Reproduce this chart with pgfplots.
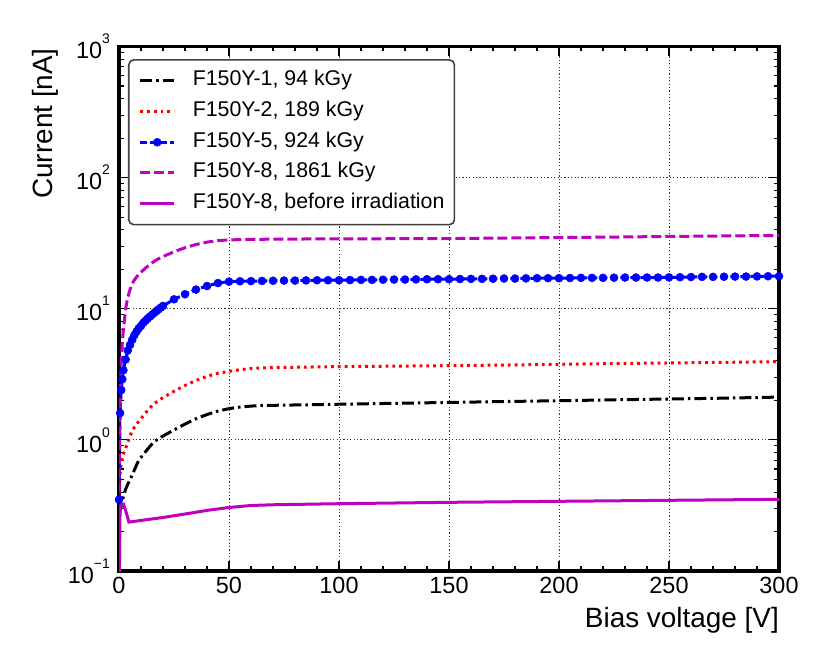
\documentclass[border=0pt]{standalone}
\usepackage{fontspec}
\setmainfont{Liberation Sans}
\usepackage{pgfplots}
\pgfplotsset{compat=1.18}
\definecolor{rootmag}{RGB}{191,0,191}
\definecolor{rootblue}{RGB}{0,0,255}
\definecolor{rootred}{RGB}{255,0,0}
\newcommand\tpow[1]{10\raisebox{15bp}{\fontsize{14}{14}\selectfont #1}}
\begin{document}
\begin{tikzpicture}
\path[use as bounding box] (0,0) rectangle (830bp,664bp);
\begin{axis}[
  at={(119bp,93bp)}, anchor=south west,
  scale only axis, width=660bp, height=524.5bp,
  xmin=0, xmax=300, ymin=0.1, ymax=1000, ymode=log,
  xtick={0,50,...,300}, minor x tick num=4,
  ytick={0.1,1,10,100,1000},
  yticklabels={\tpow{−1},\tpow{0},\tpow{1},\tpow{2},\tpow{3}},
  minor ytick={0.2,0.3,0.4,0.5,0.6,0.7,0.8,0.9,2,3,4,5,6,7,8,9,20,30,40,50,60,70,80,90,200,300,400,500,600,700,800,900},
  tick pos=both, tick align=inside,
  major tick length=10bp, minor tick length=5bp,
  every tick/.style={black, line width=1.1bp},
  axis line style={line width=3.2bp},
  grid=major,
  grid style={black!80, line width=1bp, dash pattern=on 1.2bp off 2.2bp},
  /pgf/number format/assume math mode=true,
  tick label style={font=\fontsize{23.5}{28}\selectfont},
  xticklabel style={inner sep=0pt, anchor=north, yshift=-6bp},
  yticklabel style={inner sep=0pt, anchor=east, xshift=-9bp},
  xlabel={Bias voltage [V]}, ylabel={Current [nA]},
  every axis x label/.style={at={(axis description cs:1,-0.1068)}, anchor=base east, inner sep=0pt, font=\fontsize{28}{32}\selectfont},
  every axis y label/.style={at={(axis description cs:-0.1,0.997)}, rotate=90, anchor=base east, inner sep=0pt, font=\fontsize{28}{32}\selectfont},
  legend cell align=left,
  legend style={at={(axis description cs:0.0136,0.976)}, anchor=north west,
    draw=black!75, line width=1.6bp, rounded corners=5bp, fill=white,
    font=\fontsize{21.4}{25}\selectfont,
    inner xsep=10bp, inner ysep=11bp, row sep=10.7bp, column sep=17bp,
    nodes={inner sep=0pt, text height=15bp, text depth=5bp}},
  legend image code/.code={\draw[mark repeat=2,mark phase=2,#1] plot coordinates {(0bp,0bp) (17bp,0bp) (34bp,0bp)};},
]
\addplot[black, line width=3bp, dash pattern=on 12bp off 4bp on 2.5bp off 4bp, line cap=butt] coordinates {
(0,0.27) (0.5,0.29) (1,0.31) (1.5,0.34) (2,0.37) (3,0.42) (4,0.46) (5,0.495) (6,0.54) (7,0.59) (8,0.645) (9,0.70) (10,0.735) (12,0.81) (14,0.89) (16,0.97) (18,1.02) (20,1.07) (25,1.19) (30,1.32) (35,1.45) (40,1.56) (45,1.66) (50,1.73) (55,1.78) (60,1.81) (65,1.83) (75,1.84) (100,1.87) (125,1.9) (150,1.93) (175,1.96) (200,1.99) (225,2.02) (250,2.05) (275,2.08) (300,2.12)};
\addlegendentry{F150Y-1, 94 kGy}
\addplot[rootred, line width=3bp, dash pattern=on 2.8bp off 4bp] coordinates {
(0,0.3) (0.5,0.55) (1,0.66) (1.5,0.73) (2,0.78) (3,0.86) (4,0.96) (5,1.07) (6,1.17) (7,1.25) (8,1.32) (10,1.45) (12,1.6) (14,1.75) (16,1.89) (18,2.0) (20,2.1) (25,2.35) (30,2.6) (35,2.84) (40,3.05) (45,3.22) (50,3.33) (55,3.43) (60,3.5) (65,3.54) (75,3.57) (100,3.62) (125,3.65) (150,3.68) (175,3.72) (200,3.77) (225,3.82) (250,3.86) (275,3.9) (300,3.95)};
\addlegendentry{F150Y-2, 189 kGy}
\addplot[rootblue, line width=3bp, dash pattern=on 7bp off 3bp, mark=*, mark size=4bp, mark options={solid, fill=rootblue, line width=0.5bp}] coordinates {
(0,0.35) (0.5,1.6) (1,2.4) (1.5,2.9) (2,3.4) (3,4.1) (4,4.8) (5,5.3) (6,5.8) (7,6.3) (8,6.7) (9,7.1) (10,7.4) (11,7.8) (12,8.1) (13,8.4) (14,8.7) (15,9.0) (16,9.3) (17,9.6) (18,9.9) (19,10.2) (20,10.5) (25,11.8) (30,12.9) (35,14.0) (40,14.9) (45,15.7) (50,16.1) (55,16.2) (60,16.25) (65,16.3) (70,16.35) (75,16.4) (80,16.4) (85,16.45) (90,16.5) (95,16.5) (100,16.5) (105,16.55) (110,16.6) (115,16.6) (120,16.65) (125,16.7) (130,16.7) (135,16.75) (140,16.8) (145,16.8) (150,16.8) (155,16.85) (160,16.9) (165,16.9) (170,16.95) (175,17.0) (180,17.0) (185,17.05) (190,17.1) (195,17.1) (200,17.1) (205,17.15) (210,17.2) (215,17.2) (220,17.2) (225,17.25) (230,17.3) (235,17.3) (240,17.3) (245,17.3) (250,17.35) (255,17.4) (260,17.45) (265,17.5) (270,17.5) (275,17.55) (280,17.6) (285,17.6) (290,17.65) (295,17.7) (300,17.7)};
\addlegendentry{F150Y-5, 924 kGy}
\addplot[rootmag, line width=3bp, dash pattern=on 10bp off 4bp] coordinates {
(0,0.4) (0.5,2.0) (1,3.8) (1.5,5.5) (2,7.0) (3,10.0) (4,12.2) (5,14.0) (6,15.5) (7,16.6) (8,17.5) (9,18.3) (10,19.0) (12,20.4) (14,21.7) (16,23.0) (18,24.1) (20,25.0) (25,27.2) (30,29.2) (35,30.9) (40,32.2) (45,33.1) (50,33.5) (60,33.8) (75,34.0) (100,34.1) (125,34.2) (150,34.3) (175,34.6) (200,34.9) (225,35.2) (250,35.6) (275,35.9) (300,36.2)};
\addlegendentry{F150Y-8, 1861 kGy}
\addplot[rootmag, line width=3bp] coordinates {
(0,0.05) (0.5,0.31) (1,0.32) (2,0.324) (3,0.29) (4.5,0.236) (10,0.243) (20,0.256) (30,0.272) (40,0.29) (50,0.305) (60,0.316) (70,0.32) (100,0.326) (150,0.334) (200,0.34) (250,0.346) (300,0.352)};
\addlegendentry{F150Y-8, before irradiation}
\end{axis}
\end{tikzpicture}
\end{document}
